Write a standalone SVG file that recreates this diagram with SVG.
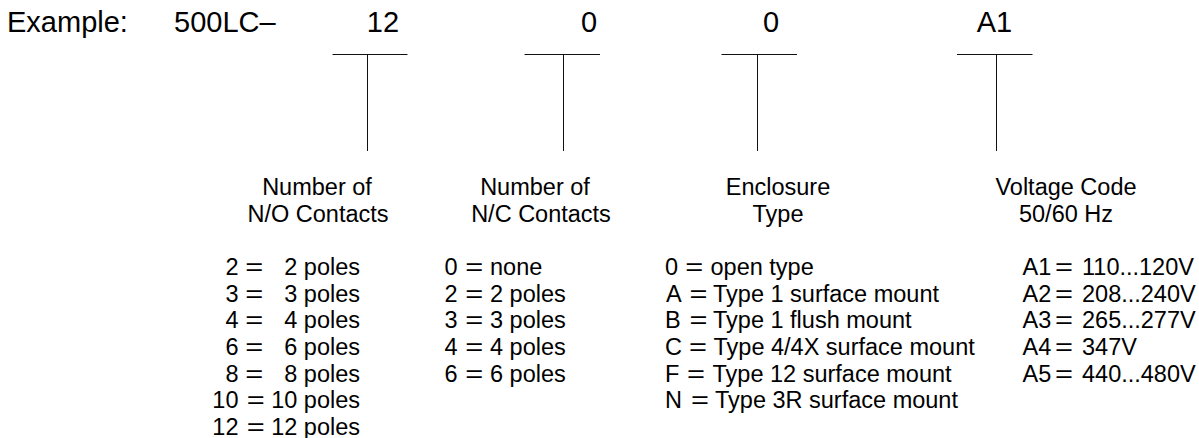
<svg xmlns="http://www.w3.org/2000/svg" width="1199" height="438" viewBox="0 0 1199 438">
<style>
text{font-family:"Liberation Sans",Arial,Helvetica,sans-serif;fill:#000}
.t{font-size:29px}
.b{font-size:23.5px}
.m{text-anchor:middle}
.e{text-anchor:end}
line{stroke:#111;stroke-width:1;fill:none}
</style>
<rect width="1199" height="438" fill="#fff"/>
<g id="example">
<text class="t" x="7" y="32">Example:</text>
<text class="t" x="174" y="32">500LC–</text>
</g>
<g id="code-no"><text class="t m" x="383" y="32">12</text></g>
<g id="code-nc"><text class="t m" x="589" y="32">0</text></g>
<g id="code-enc"><text class="t m" x="771" y="32">0</text></g>
<g id="code-volt"><text class="t m" x="994.5" y="32">A1</text></g>
<g id="connectors">
<line x1="332.5" y1="54.5" x2="407.5" y2="54.5"/>
<line x1="367.5" y1="54.5" x2="367.5" y2="151"/>
<line x1="524.5" y1="54.5" x2="600" y2="54.5"/>
<line x1="563.5" y1="54.5" x2="563.5" y2="151"/>
<line x1="721.5" y1="54.5" x2="797" y2="54.5"/>
<line x1="757.5" y1="54.5" x2="757.5" y2="151"/>
<line x1="957" y1="54.5" x2="1032.5" y2="54.5"/>
<line x1="996.5" y1="54.5" x2="996.5" y2="151"/>
</g>
<g id="no-contacts">
<text class="b m" x="317" y="195">Number of</text>
<text class="b m" x="318" y="222">N/O Contacts</text>
<text class="b e" x="238.5" y="275">2</text><text class="b" x="245.2" y="275" textLength="18" lengthAdjust="spacingAndGlyphs">=</text><text class="b e" x="360" y="275">2 poles</text>
<text class="b e" x="238.5" y="301.7">3</text><text class="b" x="245.2" y="301.7" textLength="18" lengthAdjust="spacingAndGlyphs">=</text><text class="b e" x="360" y="301.7">3 poles</text>
<text class="b e" x="238.5" y="328.3">4</text><text class="b" x="245.2" y="328.3" textLength="18" lengthAdjust="spacingAndGlyphs">=</text><text class="b e" x="360" y="328.3">4 poles</text>
<text class="b e" x="238.5" y="355">6</text><text class="b" x="245.2" y="355" textLength="18" lengthAdjust="spacingAndGlyphs">=</text><text class="b e" x="360" y="355">6 poles</text>
<text class="b e" x="238.5" y="381.7">8</text><text class="b" x="245.2" y="381.7" textLength="18" lengthAdjust="spacingAndGlyphs">=</text><text class="b e" x="360" y="381.7">8 poles</text>
<text class="b e" x="238.5" y="408.3">10</text><text class="b" x="246.8" y="408.3" textLength="18" lengthAdjust="spacingAndGlyphs">=</text><text class="b e" x="360" y="408.3">10 poles</text>
<text class="b e" x="238.5" y="435">12</text><text class="b" x="246.8" y="435" textLength="18" lengthAdjust="spacingAndGlyphs">=</text><text class="b e" x="360" y="435">12 poles</text>
</g>
<g id="nc-contacts">
<text class="b m" x="535" y="195">Number of</text>
<text class="b m" x="541" y="222">N/C Contacts</text>
<text class="b" x="444.5" y="275">0</text><text class="b" x="465.2" y="275" textLength="18" lengthAdjust="spacingAndGlyphs">=</text><text class="b" x="490" y="275">none</text>
<text class="b" x="444.5" y="301.7">2</text><text class="b" x="465.2" y="301.7" textLength="18" lengthAdjust="spacingAndGlyphs">=</text><text class="b" x="490" y="301.7">2 poles</text>
<text class="b" x="444.5" y="328.3">3</text><text class="b" x="465.2" y="328.3" textLength="18" lengthAdjust="spacingAndGlyphs">=</text><text class="b" x="490" y="328.3">3 poles</text>
<text class="b" x="444.5" y="355">4</text><text class="b" x="465.2" y="355" textLength="18" lengthAdjust="spacingAndGlyphs">=</text><text class="b" x="490" y="355">4 poles</text>
<text class="b" x="444.5" y="381.7">6</text><text class="b" x="465.2" y="381.7" textLength="18" lengthAdjust="spacingAndGlyphs">=</text><text class="b" x="490" y="381.7">6 poles</text>
</g>
<g id="enclosure">
<text class="b m" x="778" y="195">Enclosure</text>
<text class="b m" x="778" y="222">Type</text>
<text class="b" x="665" y="275">0</text><text class="b" x="685.2" y="275" textLength="18" lengthAdjust="spacingAndGlyphs">=</text><text class="b" x="710.5" y="275">open type</text>
<text class="b" x="666" y="301.7">A</text><text class="b" x="689.5" y="301.7" textLength="18" lengthAdjust="spacingAndGlyphs">=</text><text class="b" x="713" y="301.7">Type 1 surface mount</text>
<text class="b" x="665" y="328.3">B</text><text class="b" x="689.5" y="328.3" textLength="18" lengthAdjust="spacingAndGlyphs">=</text><text class="b" x="713" y="328.3">Type 1 flush mount</text>
<text class="b" x="665" y="355">C</text><text class="b" x="689" y="355" textLength="18" lengthAdjust="spacingAndGlyphs">=</text><text class="b" x="713.5" y="355">Type 4/4X surface mount</text>
<text class="b" x="665" y="381.7">F</text><text class="b" x="687" y="381.7" textLength="18" lengthAdjust="spacingAndGlyphs">=</text><text class="b" x="712.5" y="381.7">Type 12 surface mount</text>
<text class="b" x="665" y="408.3">N</text><text class="b" x="691" y="408.3" textLength="18" lengthAdjust="spacingAndGlyphs">=</text><text class="b" x="715" y="408.3">Type 3R surface mount</text>
</g>
<g id="voltage">
<text class="b m" x="1066" y="195">Voltage Code</text>
<text class="b m" x="1066" y="222">50/60 Hz</text>
<text class="b" x="1022.5" y="275">A1</text><text class="b" x="1055" y="275" textLength="18" lengthAdjust="spacingAndGlyphs">=</text><text class="b" x="1082" y="275">110...120V</text>
<text class="b" x="1022.5" y="301.7">A2</text><text class="b" x="1055" y="301.7" textLength="18" lengthAdjust="spacingAndGlyphs">=</text><text class="b" x="1082" y="301.7">208...240V</text>
<text class="b" x="1022.5" y="328.3">A3</text><text class="b" x="1055" y="328.3" textLength="18" lengthAdjust="spacingAndGlyphs">=</text><text class="b" x="1082" y="328.3">265...277V</text>
<text class="b" x="1022.5" y="355">A4</text><text class="b" x="1055" y="355" textLength="18" lengthAdjust="spacingAndGlyphs">=</text><text class="b" x="1082" y="355">347V</text>
<text class="b" x="1022.5" y="381.7">A5</text><text class="b" x="1055" y="381.7" textLength="18" lengthAdjust="spacingAndGlyphs">=</text><text class="b" x="1082" y="381.7">440...480V</text>
</g>
</svg>
